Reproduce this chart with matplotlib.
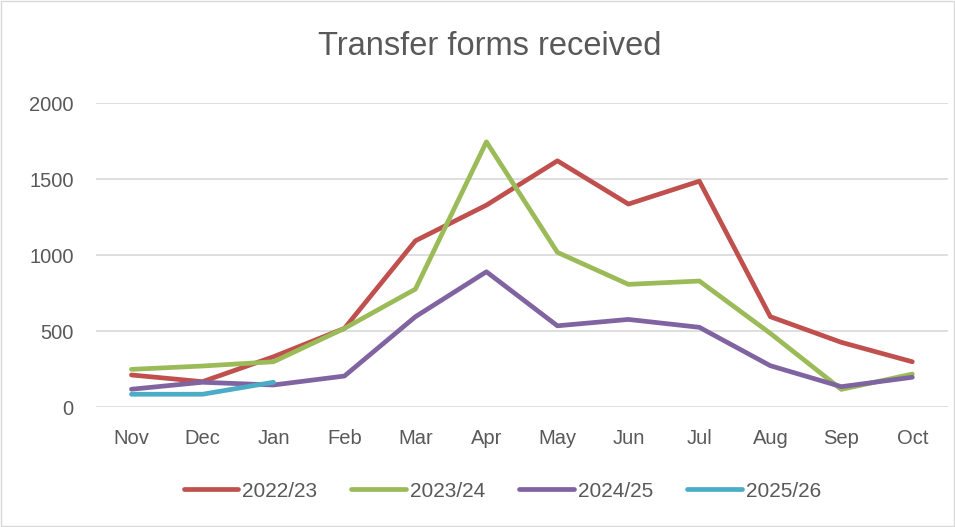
import matplotlib
matplotlib.use("Agg")
import matplotlib.pyplot as plt

plt.rcParams['font.family'] = ['Liberation Sans', 'DejaVu Sans']

months = ["Nov", "Dec", "Jan", "Feb", "Mar", "Apr", "May", "Jun", "Jul", "Aug", "Sep", "Oct"]
s_2022 = [211, 167, 331, 518, 1095, 1330, 1622, 1337, 1488, 595, 426, 298]
s_2023 = [248, 270, 298, 518, 777, 1747, 1019, 808, 830, 485, 116, 217]
s_2024 = [117, 163, 145, 204, 595, 891, 535, 577, 525, 272, 134, 196]
s_2025 = [84, 84, 163]

series = [("2022/23", s_2022, "#C0504D"),
          ("2023/24", s_2023, "#9BBB59"),
          ("2024/25", s_2024, "#8064A2"),
          ("2025/26", s_2025, "#4BACC6")]

fig = plt.figure(figsize=(9.55, 5.27), dpi=100)
ax = fig.add_axes([0.1005, 0.2277, 0.892, 0.576])

x = list(range(len(months)))
for name, vals, col in series:
    ax.plot(x[:len(vals)], vals, color=col, lw=3.4, label=name, solid_capstyle='round')

ax.set_xlim(-0.5, 11.5)
ax.set_ylim(0, 2000)
ax.set_yticks([0, 500, 1000, 1500, 2000])
ax.set_xticks(x)
ax.set_xticklabels(months)
ax.grid(axis='y', color='#d9d9d9', lw=1.2)
ax.set_axisbelow(True)
for sp in ax.spines.values():
    sp.set_visible(False)
ax.tick_params(length=0, labelsize=14.5, colors='#595959')
ax.tick_params(axis='x', pad=16)
ax.tick_params(axis='y', pad=16)

fig.text(0.513, 0.912, "Transfer forms received", ha='center', va='center',
         fontsize=23.5, color='#595959')

leg = fig.legend(loc='center', bbox_to_anchor=(0.526, 0.068), ncol=4, frameon=False,
                 fontsize=15, handlelength=2.6, columnspacing=1.65, handletextpad=0.2)
for t in leg.get_texts():
    t.set_color('#595959')

fig.patches.append(plt.Rectangle((0.001, 0.001), 0.998, 0.998, transform=fig.transFigure,
                                 fill=False, edgecolor='#d9d9d9', lw=1))

fig.savefig("out.png", dpi=100, facecolor='white')
